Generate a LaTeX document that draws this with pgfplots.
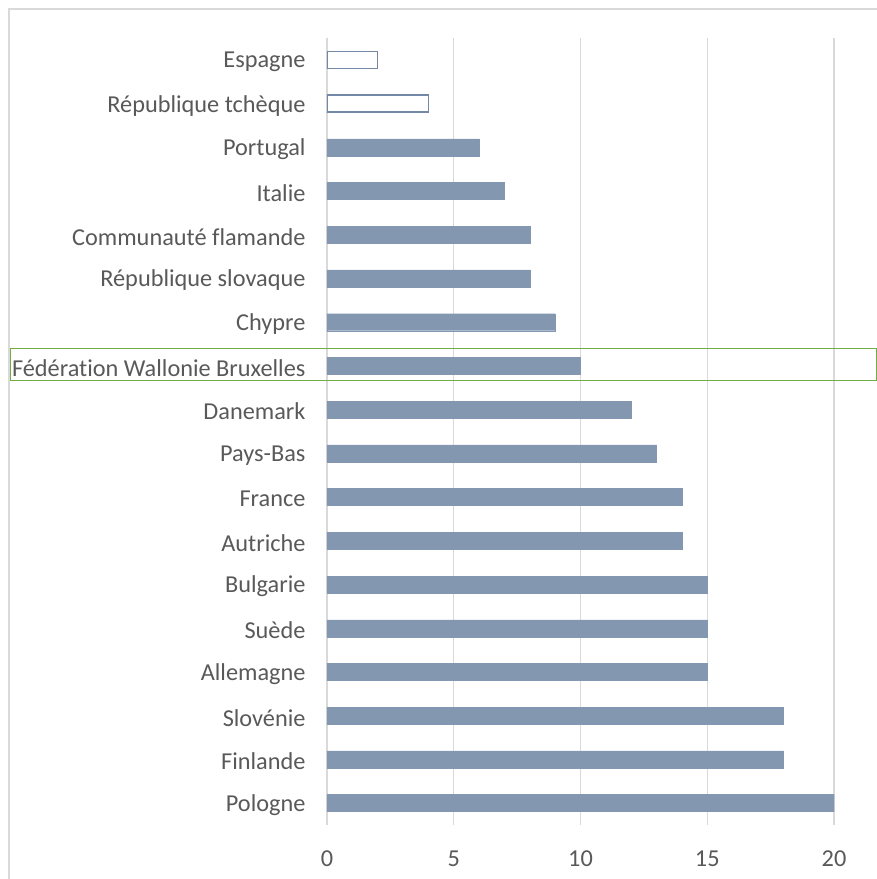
\documentclass[border=0pt]{standalone}
\usepackage{pgfplots}
\pgfplotsset{compat=1.18}
\usepackage{fontspec}
\setmainfont{Carlito}[Ligatures={NoCommon}]
\definecolor{barc}{HTML}{8497B0}
\definecolor{barl}{HTML}{7388A6}
\definecolor{gridc}{HTML}{D9D9D9}
\definecolor{txt}{HTML}{595959}
\definecolor{grn}{HTML}{70AD47}
\begin{document}
\begin{tikzpicture}[x=1pt,y=1pt]
\path[use as bounding box] (0,0) rectangle (877,879);
\draw[gridc, line width=1.5pt] (9,0) -- (9,870) -- (877,870);
\begin{axis}[
  scale only axis, width=507pt, height=787pt,
  at={(327pt,54pt)}, anchor=south west,
  xbar, bar width=17pt,
  xmin=0, xmax=20, ymin=-0.5, ymax=17.5,
  y dir=reverse,
  xtick={0,5,10,15,20},
  ytick={0,...,17},
  yticklabels={Espagne,République tchèque,Portugal,Italie,Communauté flamande,République slovaque,Chypre,Fédération Wallonie Bruxelles,Danemark,Pays-Bas,France,Autriche,Bulgarie,Suède,Allemagne,Slovénie,Finlande,Pologne},
  xmajorgrids, major grid style={gridc, line width=1.3pt},
  axis line style={draw=none},
  major tick length=0pt,
  tick label style={font=\fontsize{24.3}{28}\selectfont, text=txt},
  yticklabel style={xshift=-18pt, yshift=-2pt},
  xticklabel style={yshift=-22pt},
  /pgf/number format/assume math mode=true,
]
\addplot[bar shift=0pt, fill=barc, draw=barc] coordinates {
 (6,2) (7,3) (8,4) (8,5) (9,6) (10,7) (12,8) (13,9) (14,10) (14,11) (15,12) (15,13) (15,14) (18,15) (18,16) (20,17)};
\addplot[bar shift=0pt, fill=white, draw=barl, line width=1.2pt] coordinates {(2,0) (4,1)};
\end{axis}
\draw[grn, line width=1pt] (10.5,498) rectangle (876.5,530);
\end{tikzpicture}
\end{document}
